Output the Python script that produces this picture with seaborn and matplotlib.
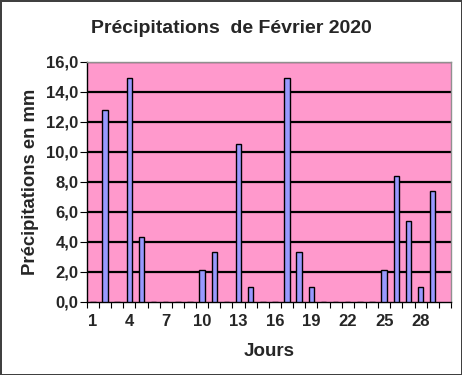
import matplotlib
matplotlib.use("Agg")
import matplotlib.pyplot as plt
import seaborn as sns
import pandas as pd
import numpy as np

days = list(range(1, 30))
rain = [0, 12.8, 0, 14.9, 4.3, 0, 0, 0, 0, 2.1, 3.3, 0, 10.5, 1.0, 0, 0,
        14.9, 3.3, 1.0, 0, 0, 0, 0, 0, 2.1, 8.4, 5.4, 1.0, 7.4]
xtick_labels = ["1", "4", "7", "10", "13", "16", "19", "22", "25", "28"]
yticks = [0, 2, 4, 6, 8, 10, 12, 14, 16]
n_slots = 30  # the category axis holds one empty slot after day 29

title = "Précipitations  de Février 2020"
xlabel = "Jours"
ylabel = "Précipitations en mm"

sns.set_style("white")
plt.rcParams['font.family'] = ['Liberation Sans', 'DejaVu Sans']

df = pd.DataFrame({"jour": [str(d) for d in days], "mm": rain})

fig = plt.figure(figsize=(4.62, 3.75), dpi=100)
fig.patch.set_facecolor("white")
fig.patch.set_edgecolor("#404040")
fig.patch.set_linewidth(2)
ax = fig.add_axes([0.188, 0.195, 0.788, 0.640])
ax.set_facecolor("#FF99CC")

sns.barplot(data=df, x="jour", y="mm", color="#9999FF", edgecolor="black",
            linewidth=1.0, width=0.45, saturation=1, ax=ax, zorder=3)

ax.set_xlim(-0.5, n_slots - 0.5)
ax.set_ylim(0, 16)
ax.set_yticks(yticks)
ax.set_yticklabels([f"{v:.1f}".replace(".", ",") for v in yticks],
                   fontsize=12, fontweight="bold")
for y in yticks[1:]:
    ax.axhline(y, color="black", lw=1.6, zorder=1)

# category boundary tick marks
ax.set_xticks(np.arange(-0.5, n_slots, 1.0))
ax.set_xticklabels([])
ax.tick_params(axis="x", which="major", length=4, width=0.8, color="black",
               direction="out", bottom=True)
label_pos = [days.index(int(t)) for t in xtick_labels]
ax.set_xticks(label_pos, minor=True)
ax.set_xticklabels(xtick_labels, minor=True, fontsize=12, fontweight="bold")
ax.tick_params(axis="x", which="minor", length=0, pad=9)
ax.tick_params(axis="y", length=5, width=0.8, color="black", direction="out",
               left=True, pad=1)

ax.set_xlabel(xlabel, fontsize=13.5, fontweight="bold", labelpad=10)
ax.set_ylabel(ylabel, fontsize=13.3, fontweight="bold", labelpad=5)

for s in ["left", "bottom"]:
    ax.spines[s].set_color("black")
    ax.spines[s].set_linewidth(1.0)
for s in ["top", "right"]:
    ax.spines[s].set_color("#909090")
    ax.spines[s].set_linewidth(1.0)

fig.text(0.5, 0.925, title, ha="center", va="center", fontsize=14,
         fontweight="bold")

fig.savefig("out.png", dpi=100, facecolor=fig.get_facecolor(),
            edgecolor=fig.get_edgecolor())
